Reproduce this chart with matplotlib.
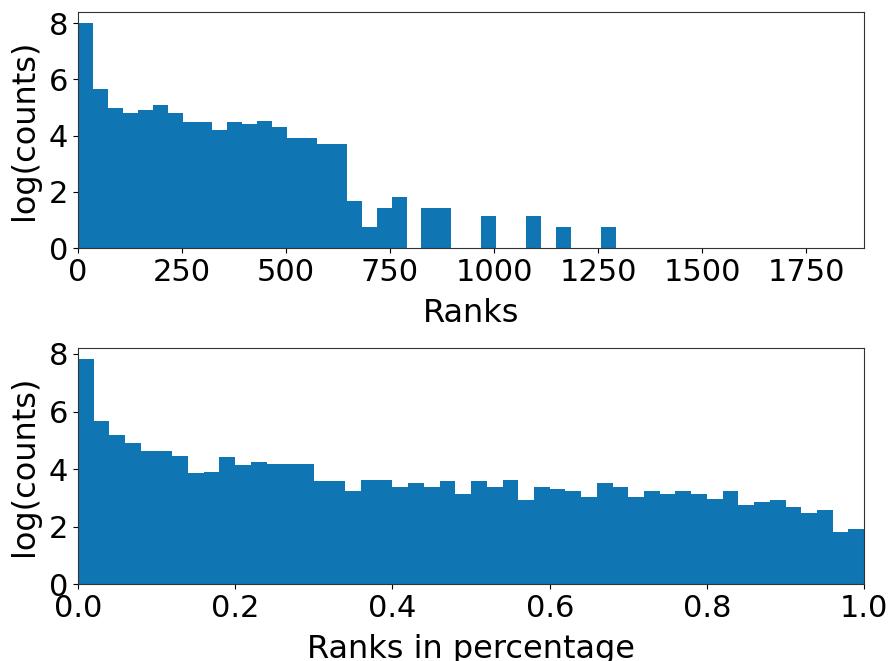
import numpy as np
from matplotlib import pyplot as plt

# log(counts) per rank bin, absolute ranks (bin width ~35.9 ranks)
rank_bin_width = 35.9
rank_log_counts = [8.0, 5.66, 4.98, 4.80, 4.92, 5.09, 4.80, 4.47, 4.47, 4.19,
                   4.47, 4.40, 4.52, 4.31, 3.90, 3.90, 3.69, 3.69, 1.66, 0.75,
                   1.42, 1.81, 0.0, 1.42, 1.42, 0.0, 0.0, 1.14, 0.0, 0.0,
                   1.14, 0.0, 0.75, 0.0, 0.0, 0.75]
rank_xmax = 1890

# log(counts) per rank bin, ranks as fraction (50 bins over 0..1)
pct_log_counts = [7.81, 5.67, 5.17, 4.90, 4.62, 4.62, 4.45, 3.85, 3.90, 4.41,
                  4.13, 4.24, 4.19, 4.19, 4.19, 3.58, 3.58, 3.25, 3.63, 3.63,
                  3.37, 3.53, 3.37, 3.58, 3.14, 3.58, 3.37, 3.63, 2.92, 3.37,
                  3.30, 3.25, 3.03, 3.53, 3.37, 3.03, 3.25, 3.14, 3.25, 3.14,
                  2.97, 3.25, 2.75, 2.86, 2.92, 2.70, 2.48, 2.59, 1.82, 1.92]

plt.rcParams['font.size'] = 22
plt.rcParams['axes.labelsize'] = 23
plt.rcParams['axes.edgecolor'] = '#333333'

BAR_COLOR = '#0f75b3'

def draw_hist(ax, edges, values):
    ax.hist(edges[:-1], bins=edges, weights=values, color=BAR_COLOR)
    ax.set_ylabel('log(counts)', labelpad=6)
    ax.set_yticks([0, 2, 4, 6, 8])

def main():
    fig, (ax1, ax2) = plt.subplots(2, 1, figsize=(8.9, 6.61), dpi=100)
    fig.subplots_adjust(left=0.0876, right=0.971, top=0.982, bottom=0.116, hspace=0.424)

    edges1 = np.arange(len(rank_log_counts) + 1) * rank_bin_width
    draw_hist(ax1, edges1, rank_log_counts)
    ax1.set_xlim(0, rank_xmax)
    ax1.set_xticks([0, 250, 500, 750, 1000, 1250, 1500, 1750])
    ax1.set_xlabel('Ranks', labelpad=8)

    edges2 = np.linspace(0, 1, len(pct_log_counts) + 1)
    draw_hist(ax2, edges2, pct_log_counts)
    ax2.set_xlim(0, 1)
    ax2.set_xlabel('Ranks in percentage', labelpad=8)

    fig.savefig('out.png', dpi=100)

if __name__ == "__main__":
    main()
